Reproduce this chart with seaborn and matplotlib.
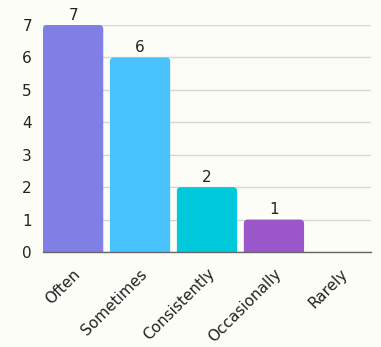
import matplotlib
matplotlib.use("Agg")
import matplotlib.pyplot as plt
import matplotlib.transforms as mtransforms
from matplotlib.path import Path
from matplotlib.patches import PathPatch
import seaborn as sns
import pandas as pd

categories = ["Often", "Sometimes", "Consistently", "Occasionally", "Rarely"]
counts = [7, 6, 2, 1, 0]
colors = ["#7f7fe6", "#48c3fd", "#00c9db", "#9b57c9", "#e0e0e0"]
y_ticks = [0, 1, 2, 3, 4, 5, 6, 7]

bg = "#fdfdf8"
text_color = "#222222"
sns.set_theme(style="white")
plt.rcParams["font.family"] = ["DejaVu Sans"]

df = pd.DataFrame({"category": categories, "count": counts})

fig = plt.figure(figsize=(3.81, 3.47), dpi=100, facecolor=bg)
ax = fig.add_axes([43 / 381, (347 - 252) / 347, (371 - 43) / 381, (252 - 25) / 347])
ax.set_facecolor(bg)

sns.barplot(data=df, x="category", y="count", hue="category", palette=colors,
            width=0.9, saturation=1, legend=False, ax=ax, zorder=3)

ax.set_ylim(0, 7)
ax.set_xlim(-0.45, len(categories) - 0.55)
ax.set_yticks(y_ticks)
ax.yaxis.grid(True, color="#d6d6d6", linewidth=1, zorder=0)
ax.set_axisbelow(True)
for side in ["left", "right", "top"]:
    ax.spines[side].set_visible(False)
ax.spines["bottom"].set_color("#666666")
ax.spines["bottom"].set_linewidth(1)
ax.spines["bottom"].set_zorder(4)
ax.set_xlabel("")
ax.set_ylabel("")
ax.tick_params(axis="both", length=0, labelsize=11, labelcolor=text_color)
ax.tick_params(axis="y", pad=8)
ax.tick_params(axis="x", pad=14)
label_shift = mtransforms.ScaledTranslation(5 / 100, 0, fig.dpi_scale_trans)
for lab in ax.get_xticklabels():
    lab.set_rotation(45)
    lab.set_ha("right")
    lab.set_va("center")
    lab.set_rotation_mode("anchor")
    lab.set_transform(lab.get_transform() + label_shift)

# Replace plain rectangles with bars rounded at the top corners
fig.canvas.draw()
to_data = ax.transData.inverted()
r_px = 4.0
(x0d, y0d), (x1d, y1d) = to_data.transform([(0, 0), (r_px, r_px)])
rx, ry = x1d - x0d, y1d - y0d
for patch in list(ax.patches):
    x = patch.get_x()
    w = patch.get_width()
    h = patch.get_height()
    fc = patch.get_facecolor()
    patch.remove()
    if h <= 0:
        continue
    verts = [
        (x, 0), (x, h - ry), (x, h), (x + rx, h),
        (x + w - rx, h), (x + w, h), (x + w, h - ry),
        (x + w, 0), (x, 0),
    ]
    codes = [Path.MOVETO, Path.LINETO, Path.CURVE3, Path.CURVE3,
             Path.LINETO, Path.CURVE3, Path.CURVE3, Path.LINETO, Path.CLOSEPOLY]
    ax.add_patch(PathPatch(Path(verts, codes), facecolor=fc, edgecolor="none", zorder=3))

for i, val in enumerate(counts):
    if val > 0:
        ax.annotate(str(val), xy=(i, val), xytext=(0, 1.5), textcoords="offset points",
                    ha="center", va="bottom", fontsize=11, color=text_color,
                    annotation_clip=False)

fig.savefig("out.png", dpi=100, facecolor=bg)
